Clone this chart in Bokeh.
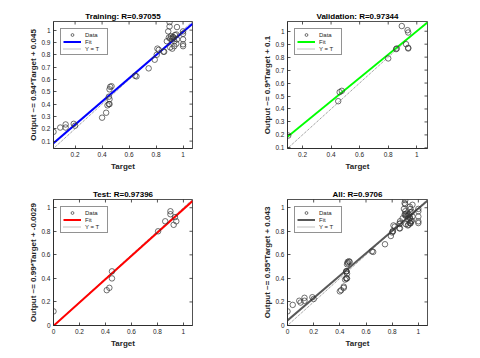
import math
from bokeh.plotting import figure
from bokeh.models import (FixedTicker, LinearAxis, Range1d, Legend,
                          LegendItem, NumeralTickFormatter)
from bokeh.layouts import column, row
from bokeh.embed import file_html
from bokeh.resources import INLINE

# ---------------- data ----------------
train_t = [0.04, 0.09, 0.13, 0.13, 0.19, 0.20, 0.40, 0.43, 0.44, 0.45, 0.455,
           0.455, 0.45, 0.455, 0.46, 0.47, 0.645, 0.655, 0.745, 0.79, 0.805,
           0.81, 0.82, 0.855, 0.86, 0.88, 0.89, 0.895, 0.90, 0.90, 0.905,
           0.905, 0.91, 0.92, 0.92, 0.925, 0.93, 0.935, 0.935, 0.94, 0.95,
           0.95, 0.955, 0.955, 1.0, 1.0, 1.0, 1.0, 1.0]
train_y = [0.175, 0.21, 0.235, 0.21, 0.24, 0.225, 0.29, 0.33, 0.39, 0.40, 0.40,
           0.44, 0.46, 0.52, 0.54, 0.545, 0.63, 0.625, 0.69, 0.76, 0.80,
           0.85, 0.84, 0.825, 0.825, 0.91, 0.99, 0.94, 1.065, 1.03, 0.93,
           0.86, 0.95, 0.93, 0.85, 0.945, 0.94, 0.87, 0.91, 0.96, 0.89,
           0.965, 1.025, 0.925, 0.99, 0.97, 0.885, 0.87, 0.925]

val_t = [0.10, 0.45, 0.46, 0.475, 0.80, 0.855, 0.86, 0.895, 0.925, 0.935,
         0.94, 0.94, 0.94]
val_y = [0.195, 0.46, 0.53, 0.54, 0.79, 0.862, 0.867, 1.04, 0.90, 1.008,
         0.99, 0.867, 0.872]

test_t = [0.0, 0.41, 0.43, 0.45, 0.45, 0.805, 0.86, 0.90, 0.90, 0.925,
          0.935, 0.945]
test_y = [0.12, 0.30, 0.32, 0.40, 0.46, 0.80, 0.885, 0.97, 0.945, 0.855,
          0.92, 0.885]

all_t = train_t + val_t + test_t
all_y = train_y + val_y + test_y

titles = ["Training: R=0.97055", "Validation: R=0.97344",
          "Test: R=0.97396", "All: R=0.9706"]
ylabels = ["Output ~= 0.94*Target + 0.045", "Output ~= 0.9*Target + 0.1",
           "Output ~= 0.99*Target + -0.0029", "Output ~= 0.95*Target + 0.043"]
fit_slope = [0.94, 0.9, 0.99, 0.95]
fit_icpt = [0.045, 0.1, -0.0029, 0.043]
fit_colors = ["#0000FF", "#00FF00", "#FF0000", "#585858"]
limits = [(0.04, 1.07), (0.095, 1.075), (0.0, 1.07), (0.0, 1.07)]

ticks_x_a = [0.2, 0.4, 0.6, 0.8, 1.0]
ticks_y_a = [0.1, 0.2, 0.3, 0.4, 0.5, 0.6, 0.7, 0.8, 0.9, 1.0]
ticks_b = [0.0, 0.2, 0.4, 0.6, 0.8, 1.0]

FONT = "Liberation Sans"
AX = "#262626"

# width, height, (min_border_left, right, top, bottom)
sizes = [(240, 179), (232, 179), (240, 171), (232, 171)]
borders = [(53, 48, 21, 31), (47, 45, 21, 31), (53, 48, 20, 25), (47, 45, 20, 25)]


def make_plot(i, t, y, xt, yt):
    lo, hi = limits[i]
    bl, br, bt, bb = borders[i]
    w, h = sizes[i]
    p = figure(width=w, height=h, output_backend="svg", toolbar_location=None,
               x_range=Range1d(lo, hi), y_range=Range1d(lo, hi),
               min_border_left=bl, min_border_right=br, min_border_top=bt,
               min_border_bottom=bb, x_axis_type=None, y_axis_type=None)
    p.background_fill_color = "white"
    p.border_fill_color = "white"
    p.outline_line_color = AX
    p.outline_line_width = 0.8
    p.grid.visible = False

    p.title.text = titles[i]
    p.title.align = "center"
    p.title.text_font = FONT
    p.title.text_font_size = "8px"
    p.title.text_font_style = "bold"
    p.title.text_color = "black"
    p.title.standoff = 2
    p.title.offset = 0

    def axis(ticks, side, label, label_standoff):
        a = LinearAxis(ticker=FixedTicker(ticks=ticks),
                       formatter=NumeralTickFormatter(format="0.[0]"),
                       major_tick_in=3, major_tick_out=0,
                       minor_tick_line_color=None,
                       axis_line_color=AX, major_tick_line_color=AX,
                       axis_line_width=0.8, major_tick_line_width=0.8,
                       major_label_text_font=FONT,
                       major_label_text_font_size="6.5px",
                       major_label_text_color=AX, major_label_standoff=3,
                       axis_label=label, axis_label_text_font=FONT,
                       axis_label_text_font_size="8px",
                       axis_label_text_font_style="bold",
                       axis_label_text_color=AX,
                       axis_label_standoff=label_standoff)
        p.add_layout(a, side)

    axis(xt, "below", "Target", 2)
    axis(yt, "left", ylabels[i], 0)

    # inward ticks on the top and right edges (box on)
    p.scatter(xt, [hi] * len(xt), marker="dash", size=6, angle=math.pi / 2,
              line_color=AX, line_width=0.8)
    p.scatter([hi] * len(yt), yt, marker="dash", size=6,
              line_color=AX, line_width=0.8)

    r_id = p.line([lo, hi], [lo, hi], line_color="#808080", line_width=1,
                  line_dash="1 1")
    r_fit = p.line([lo, hi], [fit_slope[i] * lo + fit_icpt[i],
                              fit_slope[i] * hi + fit_icpt[i]],
                   line_color=fit_colors[i], line_width=2)
    r_pts = p.scatter(t, y, marker="circle", size=5.5, fill_color=None,
                      line_color="#333333", line_width=0.7)

    leg = Legend(items=[LegendItem(label="Data", renderers=[r_pts]),
                        LegendItem(label="Fit", renderers=[r_fit]),
                        LegendItem(label="Y = T", renderers=[r_id])],
                 location="top_left", margin=7, padding=2, spacing=0,
                 glyph_width=18, glyph_height=7, label_height=7,
                 label_standoff=4, label_text_font=FONT,
                 label_text_font_size="6px", label_text_color=AX,
                 border_line_color=AX, border_line_width=0.7,
                 background_fill_color="white", background_fill_alpha=1)
    p.add_layout(leg)
    return p


p1 = make_plot(0, train_t, train_y, ticks_x_a, ticks_y_a)
p2 = make_plot(1, val_t, val_y, ticks_x_a, ticks_y_a)
p3 = make_plot(2, test_t, test_y, ticks_b, ticks_b)
p4 = make_plot(3, all_t, all_y, ticks_b, ticks_b)

layout = column(row(p1, p2), row(p3, p4))
open("out.html", "w").write(file_html(layout, INLINE))
